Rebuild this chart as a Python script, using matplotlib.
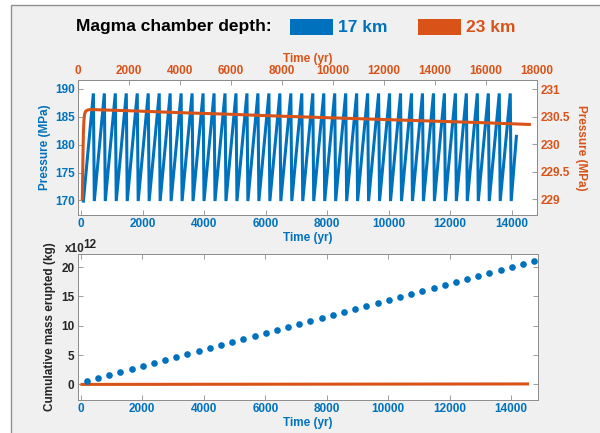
import matplotlib
matplotlib.use('Agg')
import matplotlib.pyplot as plt
from matplotlib.patches import Rectangle
from matplotlib.transforms import offset_copy

plt.rcParams['font.family'] = ['Liberation Sans', 'DejaVu Sans']
plt.rcParams['font.weight'] = 'bold'
plt.rcParams['axes.labelweight'] = 'bold'

BLUE = '#0072BD'
ORANGE = '#D95319'
GREY = '#8c8c8c'

# ---------------- data ----------------
series_names = ['17 km', '23 km']

# 17 km chamber: sawtooth pressure (MPa) vs time (yr, bottom axis)
blue_start_time = 75
blue_start_p = 169.9
blue_peak_times = [400, 757, 1113, 1470, 1826, 2183, 2540, 2896, 3253, 3609,
                   3966, 4323, 4679, 5036, 5392, 5749, 6106, 6462, 6819, 7175,
                   7532, 7889, 8245, 8602, 8958, 9315, 9672, 10028, 10385, 10741,
                   11098, 11455, 11811, 12168, 12524, 12881, 13238, 13594, 13951]
blue_trough_times = [430, 787, 1143, 1500, 1856, 2213, 2570, 2926, 3283, 3639,
                     3996, 4353, 4709, 5066, 5422, 5779, 6136, 6492, 6849, 7205,
                     7562, 7919, 8275, 8632, 8988, 9345, 9702, 10058, 10415, 10771,
                     11128, 11485, 11841, 12198, 12554, 12911, 13268, 13624, 13981]
blue_peak_p = 189.2
blue_trough_p = 169.9
blue_end_time = 14150
blue_end_p = 181.5

# 23 km chamber: pressure (MPa) vs time (yr, top axis)
orange_time = [170, 185, 200, 215, 235, 260, 300, 360, 450, 600,
               2000, 4000, 6000, 8000, 10000, 12000, 14000, 16000, 17700]
orange_p = [229.0, 229.5, 229.95, 230.25, 230.45, 230.55, 230.6, 230.62, 230.63, 230.63,
            230.61, 230.575, 230.545, 230.51, 230.48, 230.45, 230.42, 230.39, 230.36]

# cumulative mass erupted (kg)
mass_time = [195, 559, 923, 1286, 1650, 2014, 2378, 2742, 3105, 3469,
             3833, 4197, 4561, 4924, 5288, 5652, 6016, 6380, 6743, 7107,
             7471, 7835, 8199, 8562, 8926, 9290, 9654, 10018, 10381, 10745,
             11109, 11473, 11837, 12200, 12564, 12928, 13292, 13656, 14019, 14383, 14747]
mass_blue = [0.52e12, 1.03e12, 1.55e12, 2.06e12, 2.58e12, 3.09e12, 3.61e12, 4.12e12, 4.64e12, 5.15e12,
             5.67e12, 6.18e12, 6.70e12, 7.21e12, 7.73e12, 8.24e12, 8.76e12, 9.27e12, 9.79e12, 10.30e12,
             10.82e12, 11.33e12, 11.85e12, 12.36e12, 12.88e12, 13.39e12, 13.91e12, 14.42e12, 14.94e12, 15.45e12,
             15.97e12, 16.48e12, 17.00e12, 17.51e12, 18.03e12, 18.54e12, 19.06e12, 19.57e12, 20.09e12, 20.60e12,
             21.12e12]
mass_orange_time = [40, 14530]
mass_orange = [0.0, 0.08e12]

bottom_xticks = [0, 2000, 4000, 6000, 8000, 10000, 12000, 14000]
top_xticks = [0, 2000, 4000, 6000, 8000, 10000, 12000, 14000, 16000, 18000]
left_yticks = [170, 175, 180, 185, 190]
right_yticks = [229, 229.5, 230, 230.5, 231]
right_yticklabels = ['229', '229.5', '230', '230.5', '231']
mass_yticks = [0, 5, 10, 15, 20]

# build the sawtooth path from the listed turning points
blue_t = [blue_start_time]
blue_p = [blue_start_p]
for tp, tt in zip(blue_peak_times, blue_trough_times):
    blue_t += [tp, tt]
    blue_p += [blue_peak_p, blue_trough_p]
blue_t.append(blue_end_time)
blue_p.append(blue_end_p)

# ---------------- figure ----------------
W, H = 600, 433
fig = plt.figure(figsize=(6.0, 4.33), dpi=100)
fig.patch.set_facecolor('white')
bg = Rectangle((11 / W, -0.01), 1.0, (H - 5) / H + 0.01, transform=fig.transFigure,
               facecolor='#F0F0F0', edgecolor='#909090', lw=1.0, zorder=-10)
fig.add_artist(bg)

FS = 8.5
tick_kw = dict(direction='in', length=3.5, width=0.6, color=GREY, labelsize=FS, pad=2.5)

def style_spines(ax):
    for s in ax.spines.values():
        s.set_color(GREY)
        s.set_linewidth(0.7)

# top panel, 17 km (bottom/left axes)
pos_top = [78 / W, 1 - 215 / H, (537 - 78) / W, (215 - 80) / H]
ax1 = fig.add_axes(pos_top)
ax1.set_facecolor('white')
ax1.plot(blue_t, blue_p, color=BLUE, lw=2.2, solid_joinstyle='miter')
ax1.set_xlim(-100, 14820)
ax1.set_ylim(167.4, 191.6)
ax1.set_xticks(bottom_xticks)
ax1.set_yticks(left_yticks)
ax1.tick_params(axis='both', **tick_kw)
ax1.tick_params(axis='x', labelcolor=BLUE)
ax1.tick_params(axis='y', labelcolor=BLUE)
ax1.set_xlabel('Time (yr)', color=BLUE, fontsize=FS, labelpad=1)
ax1.set_ylabel('Pressure (MPa)', color=BLUE, fontsize=FS, labelpad=3)
style_spines(ax1)

# top panel, 23 km (top/right axes)
ax2 = fig.add_axes(pos_top, facecolor='none')
ax2.plot(orange_time, orange_p, color=ORANGE, lw=2.2)
ax2.set_xlim(0, 18000)
ax2.set_ylim(228.71, 231.17)
ax2.xaxis.tick_top()
ax2.xaxis.set_label_position('top')
ax2.yaxis.tick_right()
ax2.yaxis.set_label_position('right')
ax2.set_xticks(top_xticks)
ax2.set_yticks(right_yticks)
ax2.set_yticklabels(right_yticklabels)
ax2.tick_params(axis='both', **tick_kw)
ax2.tick_params(axis='x', labelcolor=ORANGE)
ax2.tick_params(axis='y', labelcolor=ORANGE)
ax2.set_xlabel('Time (yr)', color=ORANGE, fontsize=FS, labelpad=2)
ax2.set_ylabel('Pressure (MPa)', color=ORANGE, fontsize=FS, rotation=270, labelpad=12)
style_spines(ax2)

# bottom panel
pos_bot = [78 / W, 1 - 400 / H, (538 - 78) / W, (400 - 254) / H]
ax3 = fig.add_axes(pos_bot)
ax3.set_facecolor('white')
ax3.plot(mass_orange_time, [m / 1e12 for m in mass_orange], color=ORANGE, lw=2.2)
ax3.plot(mass_time, [m / 1e12 for m in mass_blue], 'o', color=BLUE, ms=4.8, mec='none')
ax3.set_xlim(-90, 14870)
ax3.set_ylim(-2.66, 22.25)
ax3.set_xticks(bottom_xticks)
ax3.set_yticks(mass_yticks)
ax3.tick_params(axis='both', top=True, right=True, **tick_kw)
ax3.tick_params(axis='x', labelcolor=BLUE)
ax3.tick_params(axis='y', labelcolor='#262626')
ax3.set_xlabel('Time (yr)', color=BLUE, fontsize=FS, labelpad=1)
ax3.set_ylabel('Cumulative mass erupted (kg)', color='#262626', fontsize=FS, labelpad=4)
base_tr = offset_copy(ax3.transAxes, fig=fig, x=-13, y=2, units='dots')
ax3.text(0, 1, 'x10', transform=base_tr, ha='left', va='baseline',
         fontsize=FS, color='#262626')
sup_tr = offset_copy(ax3.transAxes, fig=fig, x=5, y=6, units='dots')
ax3.text(0, 1, '12', transform=sup_tr, ha='left', va='baseline', fontsize=FS, color='#262626')
style_spines(ax3)

# legend header
LFS = 12.5
fig.text(76 / W, 1 - 27 / H, 'Magma chamber depth:', ha='left', va='center',
         fontsize=LFS, color='black')
for x0, name, col in [(290, series_names[0], BLUE), (418, series_names[1], ORANGE)]:
    fig.add_artist(Rectangle((x0 / W, 1 - 35 / H), 43 / W, 16 / H, transform=fig.transFigure,
                             facecolor=col, edgecolor='none'))
    fig.text((x0 + 48) / W, 1 - 27 / H, name, ha='left', va='center', fontsize=LFS, color=col)

fig.savefig('out.png', dpi=100, facecolor=fig.get_facecolor())
